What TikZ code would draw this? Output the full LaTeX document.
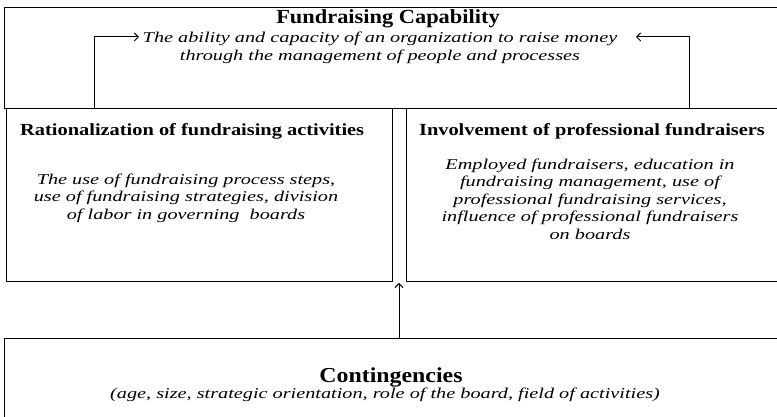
\documentclass[tikz,border=0pt]{standalone}
\usepackage{fontspec}
\setmainfont{Liberation Serif}
\newfontfamily\bigtitlefont{Liberation Serif}[FakeStretch=1.12]
\newfontfamily\subtitlefont{Liberation Serif}[FakeStretch=1.2]
\newfontfamily\descfont{Liberation Serif}[FakeStretch=1.35]
\usetikzlibrary{arrows.meta}
\begin{document}
\begin{tikzpicture}[x=1pt,y=1pt,
  box/.style={draw, line width=1pt, inner sep=0},
  bigttl/.style={font=\bigtitlefont\bfseries\fontsize{20}{22}\selectfont, inner sep=0},
  ttl/.style={font=\subtitlefont\bfseries\fontsize{17}{19}\selectfont, inner sep=0},
  desc/.style={font=\descfont\itshape\fontsize{15}{17.5}\selectfont, align=center, inner sep=0},
  arr/.style={-{Straight Barb[length=4pt,width=8pt]}, line width=1pt}]
\useasboundingbox (0,0) rectangle (777,417);
\node[box, anchor=north west, minimum width=796pt, minimum height=101pt] (topbox) at (4,410) {};
\node[box, anchor=north west, minimum width=386pt, minimum height=173pt] (leftbox) at (6,309) {};
\node[box, anchor=north west, minimum width=394pt, minimum height=173pt] (rightbox) at (406,309) {};
\node[box, anchor=north west, minimum width=796pt, minimum height=92pt] (bottombox) at (4,79) {};

\node[bigttl] (toptitle) at (388,398) {Fundraising Capability};
\node[desc] (topdesc) at (380,369) {The ability and capacity of an organization to raise money\\through the management of people and processes};

\node[ttl, anchor=west] (lefttitle) at (20,286) {Rationalization of fundraising activities};
\node[desc] (leftdesc) at (186,219) {The use of fundraising process steps,\\use of fundraising strategies, division\\of labor in governing\ \ boards};

\node[ttl] (righttitle) at (592,286) {Involvement of professional fundraisers};
\node[desc] (rightdesc) at (590,218) {Employed fundraisers, education in\\fundraising management, use of\\professional fundraising services,\\influence of professional fundraisers\\on boards};

\node[bigttl, font=\bigtitlefont\bfseries\fontsize{21.3}{23}\selectfont] (conttitle) at (391,40) {Contingencies};
\node[desc] (contdesc) at (385,22) {(age, size, strategic orientation, role of the board, field of activities)};

\coordinate (ltip) at (139,380);
\coordinate (rtip) at (636,380);
\coordinate (mtip) at (399,134);
\draw[arr] (leftbox.north -| 94,0) |- (ltip);
\draw[arr] (rightbox.north -| 689,0) |- (rtip);
\draw[arr] (bottombox.north -| mtip) -- (mtip);
\end{tikzpicture}
\end{document}
